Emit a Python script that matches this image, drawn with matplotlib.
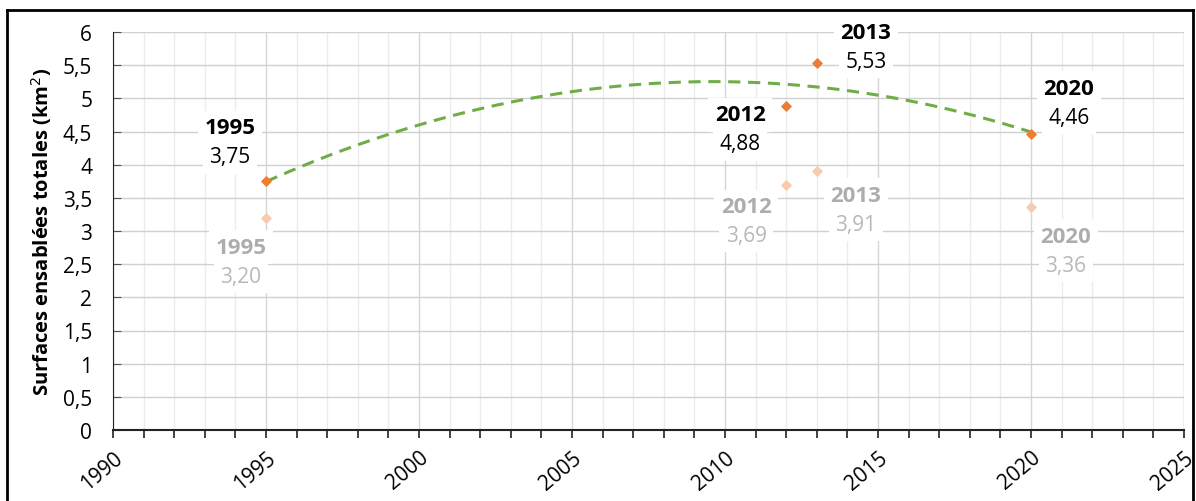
import numpy as np
import matplotlib.pyplot as plt
from matplotlib.lines import Line2D
from matplotlib.ticker import MultipleLocator

plt.rcParams['font.family'] = ['Open Sans', 'DejaVu Sans']

# --- data ---
years = [1995, 2012, 2013, 2020]
surf_main = [3.75, 4.88, 5.53, 4.46]     # dark orange series
surf_light = [3.20, 3.69, 3.91, 3.36]    # light series

# label block centre offsets in pixels (dx, dy up) from each point
off_main = [(-36, 39), (-46, -23), (49, 16), (38, 31)]
off_light = [(-25, -44), (-40, -36), (39, -39), (35, -44)]

PX = 0.72  # px -> points at dpi 100
fig = plt.figure(figsize=(11.96, 5.02), dpi=100)
ax = fig.add_axes([113 / 1196, 1 - 431 / 502, 1071 / 1196, 398 / 502])

# frame around the figure
for xs, ys in [([7, 7], [520, 11]), ([7, 1193], [11, 11]), ([1193, 1193], [11, 520])]:
    fig.add_artist(Line2D([x / 1196 for x in xs], [1 - y / 502 for y in ys],
                          color='black', lw=2, transform=fig.transFigure))

ax.set_xlim(1990, 2025)
ax.set_ylim(0, 6)
ax.xaxis.set_minor_locator(MultipleLocator(1))
ax.grid(which='major', axis='y', color='#d0d0d0', lw=1)
ax.grid(which='major', axis='x', color='#d6d6d6', lw=1)
ax.grid(which='minor', axis='x', color='#ececec', lw=1)
ax.set_axisbelow(True)
for s in ['top', 'right']:
    ax.spines[s].set_visible(False)
ax.spines['left'].set_color('#222222')
ax.spines['bottom'].set_color('#222222')
ax.spines['bottom'].set_linewidth(1.5)
ax.plot([2025, 2025], [0, 6], color='#d6d6d6', lw=1, zorder=0.5)

xt_pos = list(range(1990, 2026, 5))
yt_pos = np.arange(0, 6.01, 0.5)
ax.set_xticks(xt_pos)
ax.set_xticklabels([str(y) for y in xt_pos], rotation=40, ha='right',
                   rotation_mode='anchor', fontsize=15)
ax.set_yticks(yt_pos)
ax.set_yticklabels([f'{v:g}'.replace('.', ',') for v in yt_pos], fontsize=15)
ax.tick_params(axis='x', which='both', direction='out', length=6, width=1.2, color='#222222', pad=6)
ax.tick_params(axis='y', direction='in', length=6, color='#555555', pad=15)
ax.set_ylabel('Surfaces ensablées totales (km$^2$)', fontsize=14.5, fontweight='bold', labelpad=6)

# polynomial trend line (order 2) on the dark series
coef = np.polyfit(years, surf_main, 2)
xt = np.linspace(1995, 2020, 200)
ax.plot(xt, np.polyval(coef, xt), color='#70ad47', lw=2.2, ls=(0, (4, 2.5)), zorder=2)

ax.scatter(years, surf_light, marker='D', s=22, color='#f8cbad', zorder=3)
ax.scatter(years, surf_main, marker='D', s=22, color='#ed7d31', zorder=3)

box = dict(boxstyle='square,pad=0.3', fc='white', ec='none')


def label(y, v, dx, dy, c_year, c_val):
    ax.annotate(str(y), (y, v), xytext=(dx * PX, (dy + 14.5) * PX),
                textcoords='offset points', ha='center', va='center', fontsize=16,
                fontweight='bold', color=c_year, bbox=box, zorder=4)
    ax.annotate(f'{v:.2f}'.replace('.', ','), (y, v), xytext=(dx * PX, (dy - 14.5) * PX),
                textcoords='offset points', ha='center', va='center', fontsize=15,
                color=c_val, bbox=box, zorder=4)


for y, v, (dx, dy) in zip(years, surf_main, off_main):
    label(y, v, dx, dy, 'black', 'black')
for y, v, (dx, dy) in zip(years, surf_light, off_light):
    label(y, v, dx, dy, '#adadad', '#b8b8b8')

fig.savefig('out.png', dpi=100)
